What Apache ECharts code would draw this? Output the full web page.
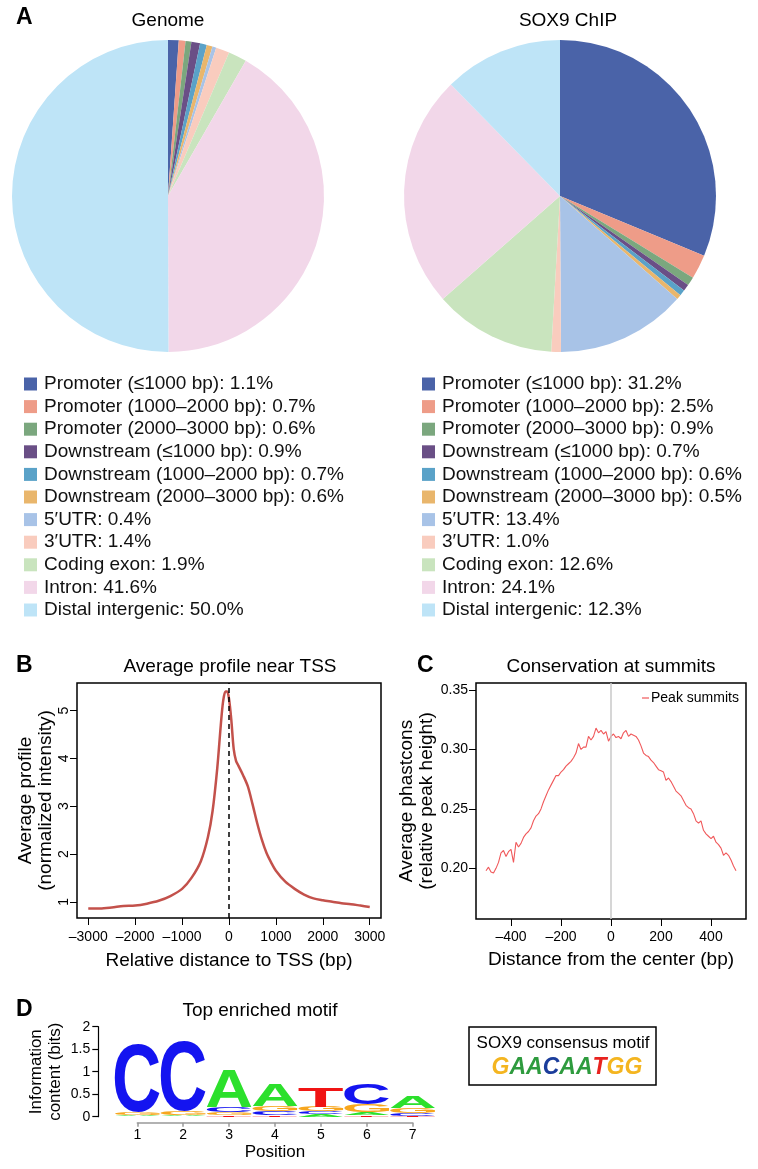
<!DOCTYPE html>
<html><head><meta charset="utf-8">
<script src="https://cdn.jsdelivr.net/npm/echarts@6/dist/echarts.min.js"></script>
<style>html,body{margin:0;padding:0;background:#fff}#c{width:758px;height:1169px}</style>
</head><body><div id="c"></div><script>
// ---------- DATA ----------
const pieCategories = ['Promoter (≤1000 bp)','Promoter (1000–2000 bp)','Promoter (2000–3000 bp)','Downstream (≤1000 bp)','Downstream (1000–2000 bp)','Downstream (2000–3000 bp)','5′UTR','3′UTR','Coding exon','Intron','Distal intergenic'];
const genomePct = [1.1,0.7,0.6,0.9,0.7,0.6,0.4,1.4,1.9,41.6,50.0];
const chipPct = [31.2,2.5,0.9,0.7,0.6,0.5,13.4,1.0,12.6,24.1,12.3];

const tssDistance = [-3000,-2750,-2500,-2250,-2000,-1750,-1500,-1250,-1000,-800,-600,-450,-350,-250,-175,-125,-75,-40,0,50,100,150,200,300,400,500,600,700,800,900,1000,1200,1400,1600,1800,2000,2200,2400,2600,2800,3000];
const tssProfile = [0.86,0.86,0.88,0.91,0.92,0.96,1.02,1.12,1.27,1.50,1.85,2.35,2.90,3.80,4.70,5.20,5.40,5.40,5.25,4.80,4.20,3.95,3.85,3.65,3.42,3.05,2.65,2.30,2.02,1.82,1.65,1.42,1.27,1.15,1.07,1.03,1.00,0.97,0.95,0.92,0.89];
const tssTicksX = [-3000,-2000,-1000,0,1000,2000,3000];
const tssTicksY = [1,2,3,4,5];

const summitDistance = [-500,-490,-480,-470,-460,-450,-440,-430,-420,-410,-400,-390,-380,-370,-360,-350,-340,-330,-320,-310,-300,-290,-280,-270,-260,-250,-240,-230,-220,-210,-200,-190,-180,-170,-160,-150,-140,-130,-120,-110,-100,-90,-80,-70,-60,-50,-40,-30,-20,-10,0,10,20,30,40,50,60,70,80,90,100,110,120,130,140,150,160,170,180,190,200,210,220,230,240,250,260,270,280,290,300,310,320,330,340,350,360,370,380,390,400,410,420,430,440,450,460,470,480,490,500];
const summitPhastcons = [0.198,0.201,0.197,0.196,0.200,0.205,0.213,0.215,0.210,0.214,0.216,0.205,0.222,0.218,0.221,0.226,0.229,0.231,0.234,0.240,0.244,0.246,0.250,0.256,0.261,0.266,0.270,0.274,0.278,0.278,0.281,0.283,0.286,0.288,0.290,0.293,0.297,0.305,0.300,0.302,0.302,0.311,0.308,0.311,0.318,0.314,0.316,0.313,0.315,0.307,0.311,0.313,0.310,0.311,0.309,0.314,0.316,0.311,0.313,0.312,0.311,0.308,0.303,0.297,0.295,0.294,0.291,0.289,0.286,0.283,0.282,0.281,0.274,0.276,0.273,0.269,0.265,0.263,0.261,0.257,0.253,0.251,0.250,0.246,0.240,0.238,0.240,0.232,0.229,0.227,0.225,0.227,0.222,0.220,0.217,0.211,0.213,0.211,0.207,0.202,0.198];
const summitTicksX = [-400,-200,0,200,400];
const summitTicksY = [0.20,0.25,0.30,0.35];

const motifPositions = [1,2,3,4,5,6,7];
const bitsA = [0.03,0.03,0.82,0.50,0.05,0.06,0.25];
const bitsC = [1.52,1.55,0.11,0.09,0.07,0.46,0.05];
const bitsG = [0.07,0.08,0.07,0.10,0.10,0.18,0.12];
const bitsT = [0.01,0.01,0.04,0.04,0.42,0.04,0.02];
const consensusMotif = 'GAACAATGG';

// ---------- STYLE ----------
const FF = '"Liberation Sans", Arial, Helvetica, sans-serif';
const pieColors = ['#4A63A8','#EE9C88','#7BA77E','#6A4F86','#5AA2C8','#E9B66C','#A8C3E7','#F9CCBE','#C9E4BE','#F2D7E9','#BEE4F7'];
const logoLetters = ['A','C','G','T'];
const logoColors = ['#2CE02C','#1414F0','#F7A61E','#F01414'];
const consColors = {G:'#F4B520', A:'#2E9B3E', C:'#1B3D9B', T:'#E8231F'};
const summitColor = '#F0595B';
const dash = v => String(v).replace('-', '\u2013');

// glyph metrics for logo letters
const mc = document.createElement('canvas').getContext('2d');
mc.font = 'bold 100px "Liberation Sans"';
mc.textBaseline = 'middle'; mc.textAlign = 'left';
const glyph = {};
logoLetters.forEach(L => {
  const m = mc.measureText(L);
  glyph[L] = {left: -m.actualBoundingBoxLeft, right: m.actualBoundingBoxRight, top: -m.actualBoundingBoxAscent, bottom: m.actualBoundingBoxDescent};
});

const logoData = [];
motifPositions.forEach((p, i) => {
  const h = [bitsA[i], bitsC[i], bitsG[i], bitsT[i]];
  const order = [0,1,2,3].sort((a,b) => h[a]-h[b]);
  let acc = 0;
  order.forEach(li => { logoData.push([p, acc, acc + h[li], li]); acc += h[li]; });
});

const pieData = vals => pieCategories.map((n,i) => ({name:n, value:vals[i], itemStyle:{color:pieColors[i]}}));
const pieSeries = (name, cx, vals) => ({
  type:'pie', name, center:[cx,196], radius:156, startAngle:90, clockwise:true,
  label:{show:false}, labelLine:{show:false}, emphasis:{disabled:true},
  itemStyle:{borderWidth:0}, data: pieData(vals)
});
const pieLegend = (left, vals) => ({
  left, top:369, orient:'vertical', data: pieCategories, icon:'rect',
  itemWidth:13, itemHeight:13, itemGap:2.6, selectedMode:false,
  textStyle:{fontSize:19, lineHeight:20, color:'#111', fontFamily:FF, padding:[0,0,0,2]},
  formatter: name => name + ': ' + vals[pieCategories.indexOf(name)].toFixed(1) + '%'
});

const tickStyle = {color:'#000', width:1};
const lbl = {fontSize:14, color:'#000', fontFamily:FF};
const nameStyle = {fontSize:19, color:'#000', fontFamily:FF, lineHeight:20};

const txt = (text, x, y, size, extra) => Object.assign({type:'text', x, y, style:Object.assign({text, fontSize:size, fontFamily:FF, fill:'#000', align:'center', verticalAlign:'middle'}, extra||{})});

const richMotif = consensusMotif.split('').map(ch => '{' + ch + '|' + ch + '}').join('');
const richStyles = {};
Object.keys(consColors).forEach(k => richStyles[k] = {fill:consColors[k], fontSize:23, fontWeight:'bold', fontStyle:'italic', fontFamily:FF});

const option = {
  animation:false,
  textStyle:{fontFamily:FF},
  legend:[
    pieLegend(19, genomePct),
    pieLegend(417, chipPct),
    {left:637, top:686, data:[{name:'Peak summits', icon:'rect', itemStyle:{color:summitColor}}], itemWidth:7, itemHeight:1.2, selectedMode:false,
     textStyle:{fontSize:14, color:'#000', fontFamily:FF, padding:[0,0,0,-3]}}
  ],
  grid:[
    {left:77, top:683, width:304, height:235, show:true, borderColor:'#000', borderWidth:1.5},
    {left:476, top:683, width:270, height:236, show:true, borderColor:'#000', borderWidth:1.5},
    {left:137.3, top:1026.7, width:275.4, height:90, show:false}
  ],
  xAxis:[
    {type:'value', gridIndex:0, min:-3240, max:3240, axisLine:{show:false, onZero:false}, splitLine:{show:false},
     axisTick:{show:true, inside:false, length:7, customValues:tssTicksX, lineStyle:tickStyle},
     axisLabel:Object.assign({customValues:tssTicksX, margin:12, formatter:dash}, lbl),
     name:'Relative distance to TSS (bp)', nameLocation:'middle', nameGap:33, nameTextStyle:nameStyle},
    {type:'value', gridIndex:1, min:-540, max:540, axisLine:{show:false, onZero:false}, splitLine:{show:false},
     axisTick:{show:true, inside:false, length:7, customValues:summitTicksX, lineStyle:tickStyle},
     axisLabel:Object.assign({customValues:summitTicksX, margin:11, formatter:dash}, lbl),
     name:'Distance from the center (bp)', nameLocation:'middle', nameGap:31, nameTextStyle:nameStyle},
    {type:'value', gridIndex:2, min:1, max:7, interval:1, offset:6,
     axisLine:{show:true, onZero:false, lineStyle:{color:'#999', width:1.5}}, splitLine:{show:false},
     axisTick:{show:true, inside:false, length:4, lineStyle:{color:'#999', width:1.5}},
     axisLabel:Object.assign({margin:5}, lbl),
     name:'Position', nameLocation:'middle', nameGap:21, nameTextStyle:{fontSize:17, color:'#000', fontFamily:FF}}
  ],
  yAxis:[
    {type:'value', gridIndex:0, min:0.66, max:5.58, axisLine:{show:false, onZero:false}, splitLine:{show:false},
     axisTick:{show:true, inside:false, length:7, customValues:tssTicksY, lineStyle:tickStyle},
     axisLabel:Object.assign({customValues:tssTicksY, margin:6, rotate:90}, lbl),
     name:'Average profile\n(normalized intensity)', nameLocation:'middle', nameRotate:90, nameGap:20, nameTextStyle:nameStyle},
    {type:'value', gridIndex:1, min:0.1574, max:0.3559, axisLine:{show:false, onZero:false}, splitLine:{show:false},
     axisTick:{show:true, inside:false, length:7, customValues:summitTicksY, lineStyle:tickStyle},
     axisLabel:Object.assign({customValues:summitTicksY, margin:8, formatter:v => v.toFixed(2)}, lbl),
     name:'Average phastcons\n(relative peak height)', nameLocation:'middle', nameRotate:90, nameGap:35, nameTextStyle:nameStyle},
    {type:'value', gridIndex:2, min:0, max:2, interval:0.5, offset:39,
     axisLine:{show:true, onZero:false, lineStyle:{color:'#000', width:1.2}}, splitLine:{show:false},
     axisTick:{show:true, inside:false, length:6, lineStyle:{color:'#000', width:1.2}},
     axisLabel:Object.assign({margin:8}, lbl),
     name:'Information\ncontent (bits)', nameLocation:'middle', nameRotate:90, nameGap:33,
     nameTextStyle:{fontSize:17, color:'#000', fontFamily:FF, lineHeight:19}}
  ],
  series:[
    pieSeries('Genome', 168, genomePct),
    pieSeries('SOX9 ChIP', 560, chipPct),
    {type:'line', name:'TSS profile', xAxisIndex:0, yAxisIndex:0, showSymbol:false, symbol:'none', smooth:0.3,
     data: tssDistance.map((x,i) => [x, tssProfile[i]]),
     itemStyle:{color:'#C3514B'}, lineStyle:{color:'#C3514B', width:2.5},
     markLine:{silent:true, symbol:['none','none'], label:{show:false},
       lineStyle:{color:'#000', type:[5,4], width:1.5}, data:[{xAxis:0}]}},
    {type:'line', name:'Peak summits', xAxisIndex:1, yAxisIndex:1, showSymbol:false, symbol:'none',
     data: summitDistance.map((x,i) => [x, summitPhastcons[i]]),
     itemStyle:{color:summitColor}, lineStyle:{color:summitColor, width:1.1},
     markLine:{silent:true, symbol:['none','none'], label:{show:false},
       lineStyle:{color:'#C8C8C8', type:'solid', width:1.5}, data:[{xAxis:0}]}},
    {type:'custom', xAxisIndex:2, yAxisIndex:2, clip:false, data:logoData,
     renderItem:(params, api) => {
       const pos = api.value(0), y0 = api.value(1), y1 = api.value(2), li = api.value(3);
       const L = logoLetters[li];
       const p0 = api.coord([pos - 0.49, y1]);
       const p1 = api.coord([pos + 0.49, y0]);
       const w = p1[0]-p0[0], h = p1[1]-p0[1];
       if (h < 0.3) return null;
       const g = glyph[L];
       const sx = w / (g.right - g.left), sy = h / (g.bottom - g.top);
       return {type:'text', x: p0[0] - g.left*sx, y: p0[1] - (50 + g.top)*sy, scaleX:sx, scaleY:sy,
         style:{text:L, fill:logoColors[li], fontSize:100, fontWeight:'bold', fontFamily:'Liberation Sans',
           align:'left', verticalAlign:'top', lineHeight:100}};
     }}
  ],
  graphic:[
    txt('A', 16, 18, 23, {fontWeight:'bold', align:'left'}),
    txt('B', 16, 666, 23, {fontWeight:'bold', align:'left'}),
    txt('C', 417, 666, 23, {fontWeight:'bold', align:'left'}),
    txt('D', 16, 1010, 23, {fontWeight:'bold', align:'left'}),
    txt('Genome', 168, 21, 19),
    txt('SOX9 ChIP', 568, 21, 19),
    txt('Average profile near TSS', 230, 667, 19),
    txt('Conservation at summits', 611, 667, 19),
    txt('Top enriched motif', 260, 1011, 19),
    {type:'rect', shape:{x:469, y:1027, width:187, height:58}, style:{fill:'#fff', stroke:'#000', lineWidth:1.5}},
    txt('SOX9 consensus motif', 563, 1043, 17),
    {type:'text', x:567, y:1068, style:{text:richMotif, rich:richStyles, align:'center', verticalAlign:'middle', fontSize:23, fontWeight:'bold', fontStyle:'italic', fontFamily:FF}}
  ]
};
const chart = echarts.init(document.getElementById('c'), null, {renderer:'canvas'});
chart.setOption(option);
</script></body></html>
